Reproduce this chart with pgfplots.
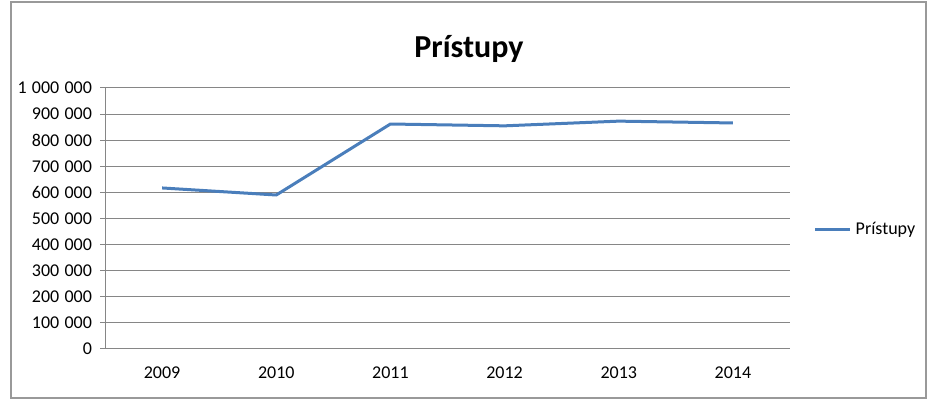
\documentclass[border=0pt]{standalone}
\usepackage{pgfplots}
\pgfplotsset{compat=1.18}
\usepackage{fontspec}
\setmainfont{Carlito}
\definecolor{excelblue}{HTML}{4A7EBB}
\definecolor{gridc}{HTML}{868686}
\begin{document}
\begin{tikzpicture}
\path (0pt,0pt) rectangle (465pt,200pt);
\draw[gray!80, line width=0.6pt] (5.5pt,1pt) rectangle (463pt,199pt);
\node[font=\fontsize{16}{18}\selectfont\bfseries, anchor=base] at (234.5pt,171pt) {Prístupy};
\begin{axis}[
  at={(52.5pt,25.5pt)}, anchor=south west,
  scale only axis, width=342.5pt, height=130.5pt,
  xmin=-0.5, xmax=5.5, ymin=0, ymax=1000000,
  axis x line*=bottom, axis y line*=left,
  axis line style={gridc, line width=0.5pt, -},
  xtick={0,...,5},
  xticklabels={2009,2010,2011,2012,2013,2014},
  major x tick style={draw=none},
  extra x ticks={-0.5,0.5,1.5,2.5,3.5,4.5,5.5},
  extra x tick labels={},
  extra x tick style={major tick length=3pt, tick align=outside, tick style={gridc, line width=0.5pt}, grid=none},
  ytick={0,100000,...,1000000},
  ymajorgrids,
  grid style={gridc, line width=0.5pt},
  major y tick style={gridc, line width=0.5pt},
  tick align=outside, major tick length=2.5pt,
  scaled y ticks=false,
  yticklabel style={/pgf/number format/fixed, /pgf/number format/1000 sep={\hspace{2.6pt}}, /pgf/number format/assume math mode=true, font=\fontsize{9}{10}\selectfont, xshift=-0.5pt},
  xticklabel style={font=\fontsize{9}{10}\selectfont, yshift=-3pt},
  legend style={at={(1.034,0.456)}, anchor=west, draw=none, fill=none, font=\fontsize{9}{10}\selectfont, inner sep=0pt},
  legend cell align=left,
  legend image code/.code={\draw[#1] (0pt,0pt) -- (17.5pt,0pt);},
]
\addplot[excelblue, line width=1.5pt, line join=round] coordinates {
 (0,617000) (1,590000) (2,862000) (3,855000) (4,873000) (5,866000)
};
\addlegendentry{Prístupy}
\end{axis}
\end{tikzpicture}
\end{document}
